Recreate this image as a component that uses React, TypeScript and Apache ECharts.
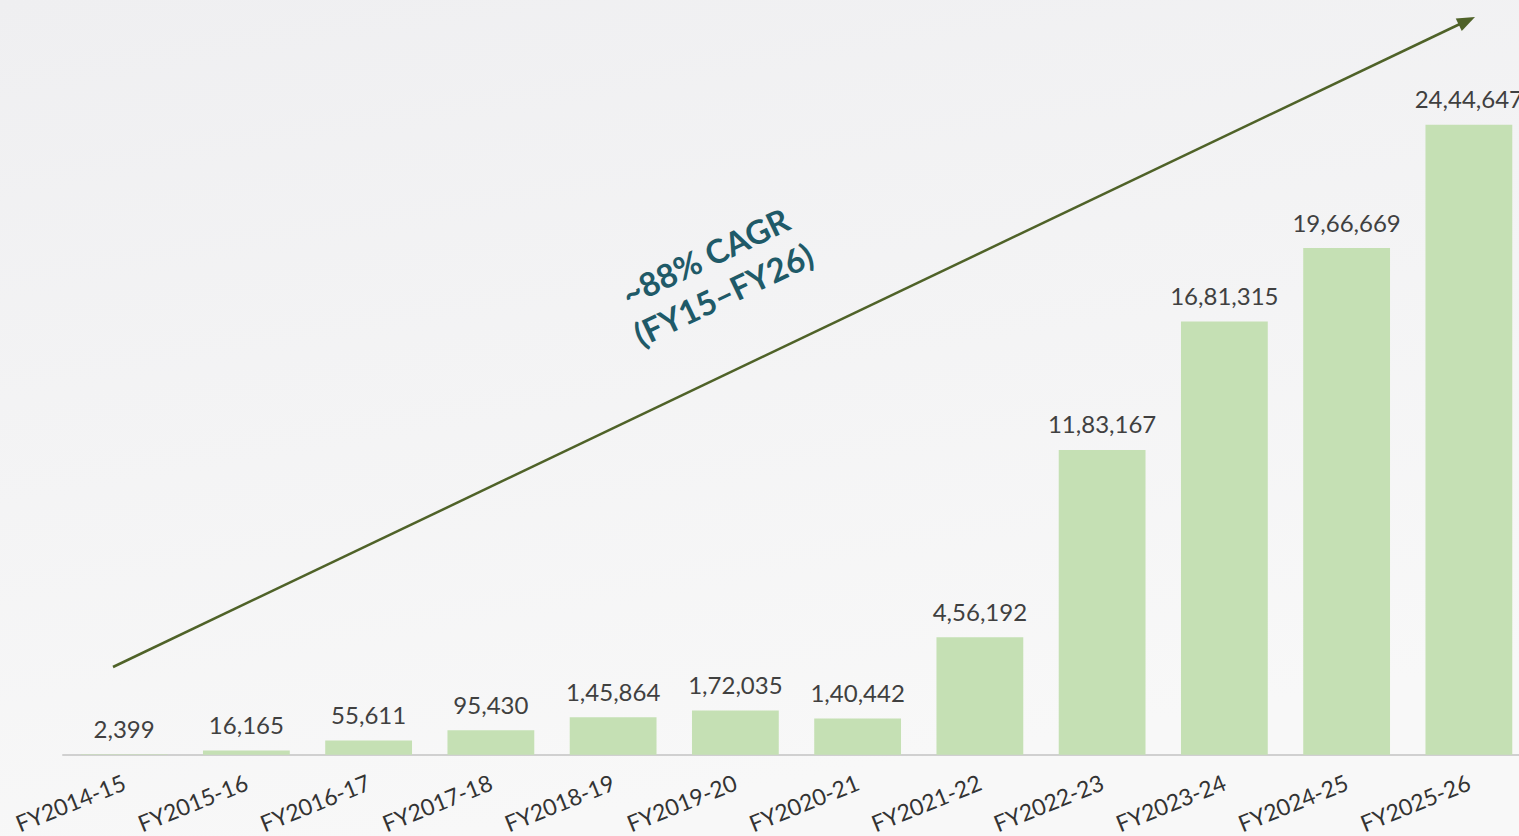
import React, { useEffect, useRef } from "react";
import * as echarts from "echarts";

const categories = [
  "FY2014-15", "FY2015-16", "FY2016-17", "FY2017-18", "FY2018-19", "FY2019-20",
  "FY2020-21", "FY2021-22", "FY2022-23", "FY2023-24", "FY2024-25", "FY2025-26",
];
const values = [2399, 16165, 55611, 95430, 145864, 172035, 140442, 456192, 1183167, 1681315, 1966669, 2444647];
const cagrLines = ["~88% CAGR", "(FY15–FY26)"];

function indianFormat(n: number): string {
  const s = String(Math.round(n));
  if (s.length <= 3) return s;
  const last3 = s.slice(-3);
  let rest = s.slice(0, -3);
  const parts: string[] = [];
  while (rest.length > 2) {
    parts.unshift(rest.slice(-2));
    rest = rest.slice(0, -2);
  }
  if (rest) parts.unshift(rest);
  return parts.join(",") + "," + last3;
}

export default function App() {
  const ref = useRef<HTMLDivElement>(null);
  useEffect(() => {
    const chart = echarts.init(ref.current!, null, { renderer: "svg" });
    const angle = Math.atan2(667 - 17, 1475 - 113);
    const font = "Lato, 'Open Sans', sans-serif";
    chart.setOption({
      animation: false,
      backgroundColor: {
        type: "linear", x: 0, y: 0, x2: 0.3, y2: 1,
        colorStops: [
          { offset: 0, color: "#efeff1" },
          { offset: 1, color: "#f8f8f8" },
        ],
      },
      grid: { left: 63, right: 0, top: 33.3, bottom: 80, containLabel: false },
      xAxis: {
        type: "category",
        data: categories,
        axisLine: { lineStyle: { color: "#d0d0d0", width: 2 } },
        axisTick: { show: false },
        axisLabel: {
          rotate: 22, color: "#333333", fontSize: 23, fontFamily: font, margin: 26,
          interval: 0,
        },
      },
      yAxis: {
        type: "value", min: 0, max: 2800000, show: false,
        splitLine: { show: false },
      },
      series: [
        {
          type: "bar",
          data: values,
          barCategoryGap: "29%",
          itemStyle: { color: "#c5e0b4" },
          label: {
            show: true, position: "top", distance: 14,
            color: "#404040", fontSize: 24, fontFamily: font,
            formatter: (p: any) => indianFormat(p.value),
          },
        },
      ],
      graphic: [
        {
          type: "line",
          shape: { x1: 113, y1: 667, x2: 1462, y2: 23 },
          style: { stroke: "#4f6228", lineWidth: 2.5 },
        },
        {
          type: "polygon",
          x: 1475, y: 17, rotation: angle,
          shape: { points: [[0, 0], [-18, -7], [-18, 7]] },
          style: { fill: "#4f6228" },
        },
        {
          type: "text",
          x: 714, y: 275, rotation: angle,
          style: {
            text: cagrLines.join("\n"),
            fill: "#1f5a68",
            font: "bold 33px " + font,
            align: "center", verticalAlign: "middle",
            lineHeight: 42,
          },
        },
      ],
    });
    return () => chart.dispose();
  }, []);
  return (
    <div style={{ position: "fixed", left: 0, top: 0, width: 1519, height: 836, overflow: "hidden" }}>
      <div ref={ref} style={{ width: 1530, height: 836 }} />
    </div>
  );
}
